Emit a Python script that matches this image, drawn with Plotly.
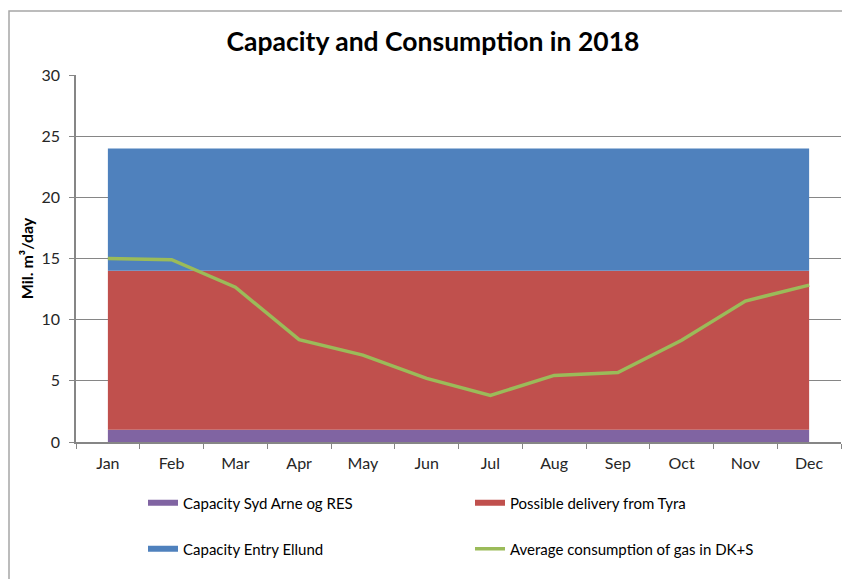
import plotly.graph_objects as go

months = ["Jan", "Feb", "Mar", "Apr", "May", "Jun", "Jul", "Aug", "Sep", "Oct", "Nov", "Dec"]
cap_syd_arne = [1, 1, 1, 1, 1, 1, 1, 1, 1, 1, 1, 1]
tyra_delivery = [13, 13, 13, 13, 13, 13, 13, 13, 13, 13, 13, 13]
cap_ellund = [10, 10, 10, 10, 10, 10, 10, 10, 10, 10, 10, 10]
consumption = [15.0, 14.9, 12.65, 8.37, 7.1, 5.2, 3.81, 5.44, 5.68, 8.31, 11.52, 12.82]

FONT = "Lato"
OFF = 8  # page body margin
W, H = 850 - OFF, 579 - OFF
L, T = 76 - OFF, 75 - OFF
R = W - (841 - OFF)
B = H - (442 - OFF)
pw, ph = W - L - R, H - T - B

fig = go.Figure()
fig.add_trace(go.Scatter(x=months, y=cap_syd_arne, name="Capacity Syd Arne og RES",
                         stackgroup="one", mode="none", fillcolor="#8064A2", legend="legend"))
fig.add_trace(go.Scatter(x=months, y=tyra_delivery, name="Possible delivery from Tyra",
                         stackgroup="one", mode="none", fillcolor="#C0504D", legend="legend"))
fig.add_trace(go.Scatter(x=months, y=cap_ellund, name="Capacity Entry Ellund",
                         stackgroup="one", mode="none", fillcolor="#4F81BD", legend="legend2"))
fig.add_trace(go.Scatter(x=months, y=consumption, name="Average consumption of gas in DK+S",
                         mode="lines", line=dict(color="#9BBB59", width=3.5), legend="legend2"))

leg_common = dict(orientation="h", x=(148 - OFF - 5 - L) / pw, xanchor="left", yanchor="middle",
                  entrywidth=282, entrywidthmode="pixels", bgcolor="rgba(0,0,0,0)",
                  font=dict(size=15, color="black"), itemwidth=30, traceorder="normal")

# outer chart border (only left and top edges are visible in the frame)
bx0 = (9 - 76) / pw
by_top = 1 + (75 - 11) / ph
by_bot = -(H + 20 - T - ph) / ph
bx1 = (W + 20 - L) / pw
border_path = f"M {bx0} {by_bot} L {bx0} {by_top} L {bx1} {by_top}"

fig.update_layout(
    width=W, height=H,
    margin=dict(l=L, r=R, t=T, b=B, autoexpand=False),
    paper_bgcolor="white", plot_bgcolor="white",
    font=dict(family=FONT, color="#262626"),
    title=dict(text="<b>Capacity and Consumption in 2018</b>", x=(433 - OFF) / W, xref="container",
               xanchor="center", y=1 - (42 - OFF) / H, yref="container", yanchor="middle",
               font=dict(size=26.5, color="black", family=FONT)),
    xaxis=dict(range=[-0.5, 11.5], showgrid=False, showline=True, linecolor="#868686",
               linewidth=1.5, ticks="outside", tickson="boundaries", ticklen=5,
               tickcolor="#868686", tickfont=dict(size=16), fixedrange=True,
               automargin=False, ticklabelstandoff=6),
    yaxis=dict(range=[0, 30], dtick=5, showgrid=True, gridcolor="#868686", gridwidth=1,
               showline=True, linecolor="#868686", linewidth=1.5, ticks="outside",
               ticklen=5, tickcolor="#868686", tickfont=dict(size=16), zeroline=False,
               automargin=False, ticklabelstandoff=6,
               title=dict(text="<b>Mil. m³/day</b>", font=dict(size=16, color="black"),
                          standoff=4)),
    legend=dict(y=-(503 - 442) / ph, **leg_common),
    legend2=dict(y=-(549 - 442) / ph, **leg_common),
    shapes=[dict(type="path", xref="paper", yref="paper", path=border_path,
                 line=dict(color="#A6A6A6", width=1.5), layer="below")],
)

fig.write_html("out.html")
